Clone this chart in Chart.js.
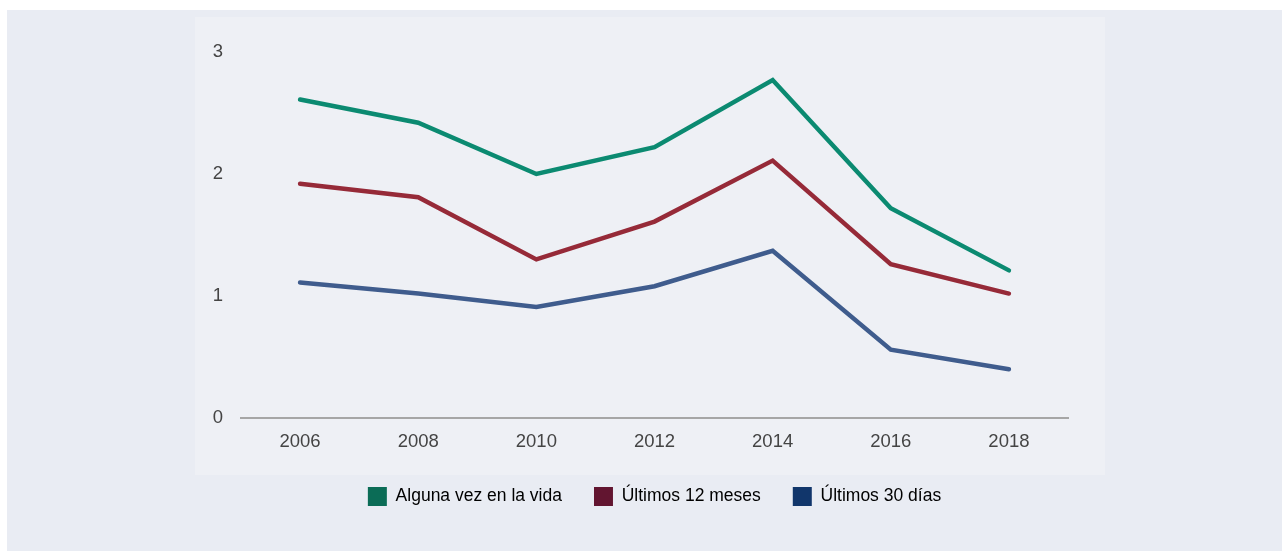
<!DOCTYPE html>
<html lang="es">
<head>
<meta charset="utf-8">
<title>Prevalencia de consumo</title>
<script src="https://cdn.jsdelivr.net/npm/chart.js@4.4.1/dist/chart.umd.min.js"></script>
<style>
  html, body { margin: 0; padding: 0; background: #ffffff; }
  body { width: 1282px; height: 551px; position: relative; overflow: hidden; }
  #frame { position: absolute; left: 7px; top: 10px; width: 1275px; height: 541px; background: #e9ecf3; }
  #panel { position: absolute; left: 195px; top: 17px; width: 910px; height: 458px; background: #eef0f5; }
  #wrap { position: absolute; left: 0; top: 0; width: 1282px; height: 551px; }
</style>
</head>
<body>
<div id="frame"></div>
<div id="panel"></div>
<div id="wrap"><canvas id="chart" width="1282" height="551"></canvas></div>
<script>
// Years surveyed
const years = ['2006', '2008', '2010', '2012', '2014', '2016', '2018'];

// Prevalence (%) per period
const algunaVez = [2.61, 2.42, 2.00, 2.22, 2.77, 1.72, 1.21];
const ultimos12 = [1.92, 1.81, 1.30, 1.61, 2.11, 1.26, 1.02];
const ultimos30 = [1.11, 1.02, 0.91, 1.08, 1.37, 0.56, 0.40];

const seriesNames = ['Alguna vez en la vida', 'Últimos 12 meses', 'Últimos 30 días'];
const lineColors = ['#0b8a71', '#962a38', '#3f5c8d'];
const swatchColors = ['#0b6c56', '#621530', '#11366b'];

const yTicks = [0, 1, 2, 3];

const FONT = '"Liberation Sans", Arial, Helvetica, sans-serif';

const makeSet = (i, data) => ({
  label: seriesNames[i],
  data: data,
  borderColor: lineColors[i],
  backgroundColor: lineColors[i],
  borderWidth: 4.5,
  borderCapStyle: 'round',
  borderJoinStyle: 'miter',
  pointRadius: 0,
  pointHoverRadius: 0,
  tension: 0,
  fill: false
});

new Chart(document.getElementById('chart'), {
  type: 'line',
  data: {
    labels: years,
    datasets: [makeSet(0, algunaVez), makeSet(1, ultimos12), makeSet(2, ultimos30)]
  },
  options: {
    responsive: false,
    animation: false,
    layout: { padding: { left: 0, right: 214, top: 52, bottom: 35 } },
    scales: {
      x: {
        type: 'category',
        offset: true,
        grid: { display: false },
        border: { display: true, color: '#a6a6a6', width: 2 },
        ticks: { color: '#444444', font: { family: FONT, size: 18.5 }, padding: 5, maxRotation: 0 },
        afterFit: (s) => { s.height = 37; }
      },
      y: {
        min: 0,
        max: 3,
        grid: { display: false },
        border: { display: false },
        afterBuildTicks: (s) => { s.ticks = yTicks.map(v => ({ value: v })); },
        ticks: { color: '#444444', font: { family: FONT, size: 18.5 }, padding: 10 },
        afterFit: (s) => { s.width = 241; }
      }
    },
    plugins: {
      tooltip: { enabled: false },
      legend: {
        position: 'bottom',
        fullSize: false,
        labels: {
          boxWidth: 19,
          boxHeight: 19,
          padding: 32,
          color: '#333333',
          font: { family: FONT, size: 17.5 },
          generateLabels: (chart) => chart.data.datasets.map((d, i) => ({
            text: d.label,
            fillStyle: swatchColors[i],
            strokeStyle: swatchColors[i],
            lineWidth: 0,
            hidden: false,
            datasetIndex: i
          }))
        }
      }
    }
  }
});
</script>
</body>
</html>
